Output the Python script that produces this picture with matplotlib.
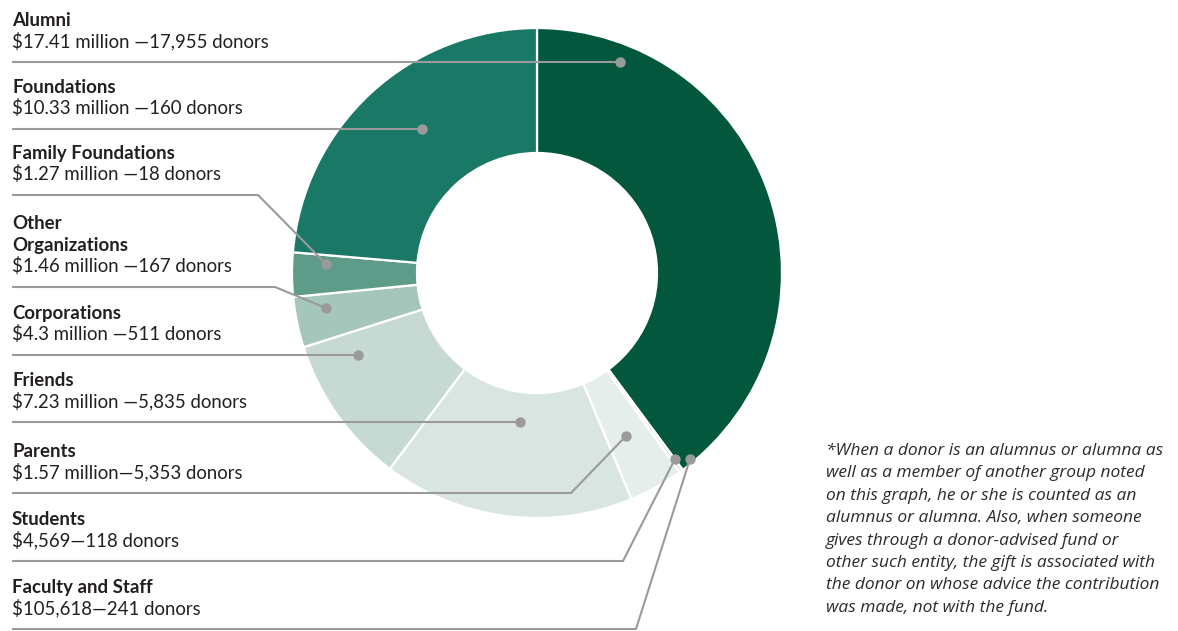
import matplotlib.pyplot as plt

plt.rcParams['font.family'] = ['Lato', 'DejaVu Sans']

# gifts by donor group (millions of dollars), in ring order clockwise from the top
ring_groups = ["Alumni", "Faculty and Staff", "Students", "Parents", "Friends",
               "Corporations", "Other Organizations", "Family Foundations", "Foundations"]
ring_amounts = [17.41, 0.105618, 0.004569, 1.57, 7.23, 4.3, 1.46, 1.27, 10.33]
ring_colors = ["#03573C", "#D3E2DC", "#F1F6F4", "#E5EEEB", "#D8E5E0",
               "#C6DAD3", "#A5C6BA", "#5F9B89", "#1A7966"]

# label column, top to bottom
label_names = ["Alumni", "Foundations", "Family Foundations", "Other\nOrganizations",
               "Corporations", "Friends", "Parents", "Students", "Faculty and Staff"]
label_values = [r"\$17.41 million —17,955 donors",
                r"\$10.33 million —160 donors",
                r"\$1.27 million —18 donors",
                r"\$1.46 million —167 donors",
                r"\$4.3 million —511 donors",
                r"\$7.23 million —5,835 donors",
                r"\$1.57 million—5,353 donors",
                r"\$4,569—118 donors",
                r"\$105,618—241 donors"]

footnote = ["*When a donor is an alumnus or alumna as",
            "well as a member of another group noted",
            "on this graph, he or she is counted as an",
            "alumnus or alumna. Also, when someone",
            "gives through a donor-advised fund or",
            "other such entity, the gift is associated with",
            "the donor on whose advice the contribution",
            "was made, not with the fund."]

W, H = 1178, 631
fig = plt.figure(figsize=(W / 100, H / 100), dpi=100)
ax = fig.add_axes([0, 0, 1, 1])


def Y(py):
    # pixel row (from top) to data y
    return H - py


cx, cy, r_out, r_in = 537, 273, 245, 120
ax.pie(ring_amounts, colors=ring_colors, startangle=90, counterclock=False,
       center=(cx, Y(cy)), radius=r_out,
       wedgeprops=dict(width=r_out - r_in, edgecolor="white", linewidth=1.6))

# leader lines: rule row, elbow x (None = straight), anchor point
rule_rows = [62, 129, 195, 287, 355, 422, 493, 561, 629]
elbows = [None, None, 258, 275, None, None, 571, 623, 636]
anchors = [(620, 62), (422, 129), (326, 264), (326, 308), (358, 355),
           (520, 422), (626, 436), (675, 459), (690, 459)]

line_col = "#9A9A9C"
text_col = "#231F20"
for name, val, ry, ex, (axp, ayp) in zip(label_names, label_values, rule_rows, elbows, anchors):
    xs = [12]
    ys = [ry]
    if ex is not None:
        xs.append(ex)
        ys.append(ry)
    xs.append(axp)
    ys.append(ayp)
    ax.plot(xs, [Y(v) for v in ys], color=line_col, lw=1.5, zorder=3,
            solid_capstyle="butt")
    ax.plot(axp, Y(ayp), "o", color=line_col, ms=7.5, mec="none", zorder=4)

    ax.text(12, Y(ry - 15), val, fontsize=13.4, color=text_col, va="baseline", ha="left")
    name_lines = name.split("\n")
    for k, ln in enumerate(reversed(name_lines)):
        ax.text(12, Y(ry - 36 - 22 * k), ln, fontsize=13.4, fontweight="bold",
                color=text_col, va="baseline", ha="left")

for i, ln in enumerate(footnote):
    ax.text(826, Y(455 + 22.4 * i), ln, fontsize=12.5, style="italic",
            family=["Open Sans", "DejaVu Sans"],
            color="#2B2B2B", va="baseline", ha="left")

ax.set_xlim(0, W)
ax.set_ylim(0, H)
ax.set_aspect("equal")
ax.axis("off")

fig.savefig("out.png", dpi=100, facecolor="white")
